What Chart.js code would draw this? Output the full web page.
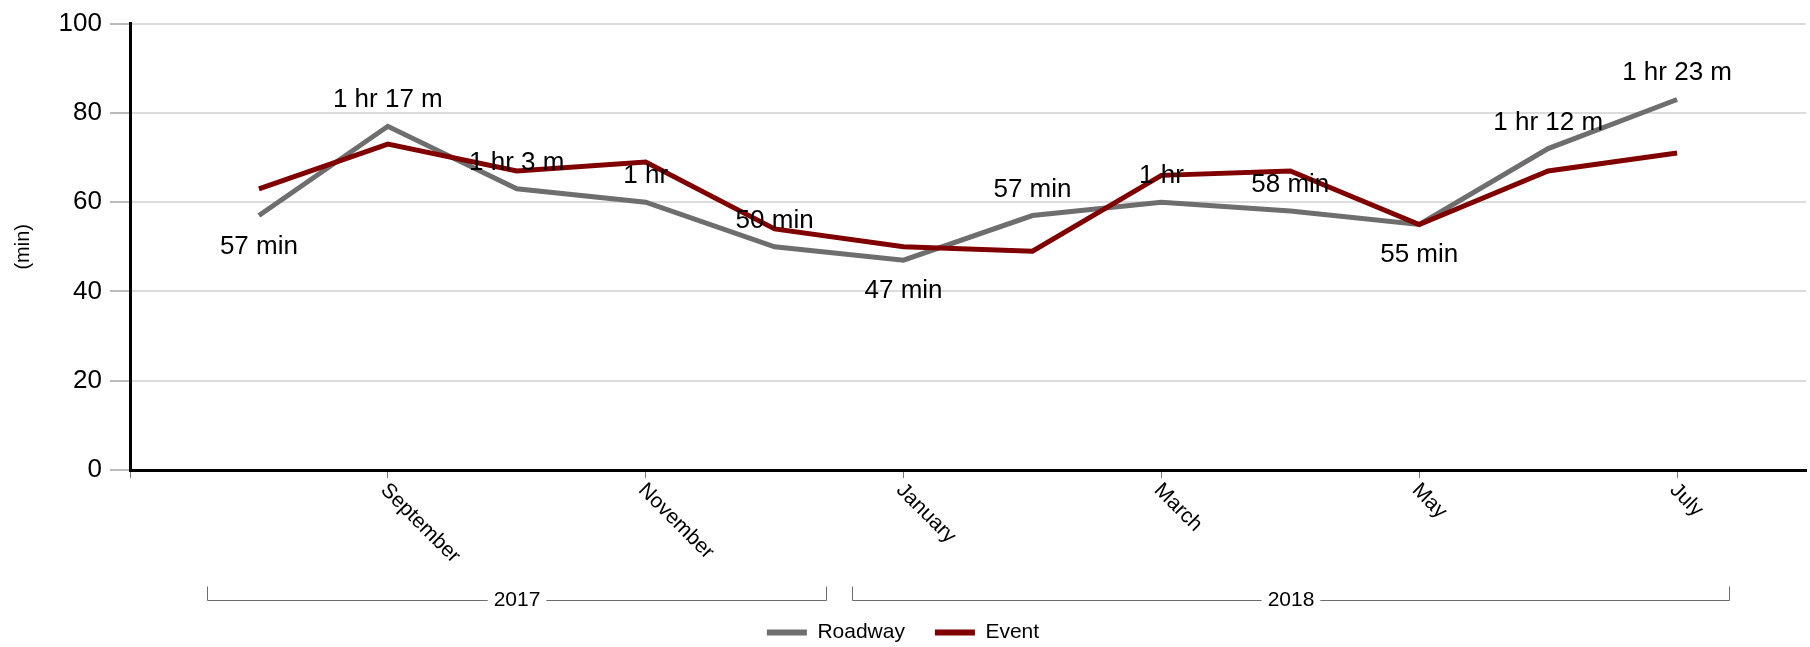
<!DOCTYPE html>
<html>
<head>
<meta charset="utf-8">
<title>Roadway vs Event duration</title>
<script src="https://cdn.jsdelivr.net/npm/chart.js@4.4.1/dist/chart.umd.min.js"></script>
<style>
  html, body { margin: 0; padding: 0; background: #fff; }
  #wrap { width: 1810px; height: 647px; }
</style>
</head>
<body>
<div id="wrap"><canvas id="durationChart"></canvas></div>
<script>
// x axis runs one month past the data on each side
const axisMonths = ['2017-07', '2017-08', '2017-09', '2017-10', '2017-11', '2017-12',
    '2018-01', '2018-02', '2018-03', '2018-04', '2018-05', '2018-06', '2018-07', '2018-08'];
const tickLabels = ['', '', 'September', '', 'November', '', 'January', '', 'March', '', 'May', '', 'July', ''];
const categories = ['2017-08', '2017-09', '2017-10', '2017-11', '2017-12',
    '2018-01', '2018-02', '2018-03', '2018-04', '2018-05', '2018-06', '2018-07'];
const years = ['2017', '2018'];
const roadway = [57, 77, 63, 60, 50, 47, 57, 60, 58, 55, 72, 83];
const eventTimes = [63, 73, 67, 69, 54, 50, 49, 66, 67, 55, 67, 71];
const yTicks = [0, 20, 40, 60, 80, 100];

const FONT = "'Liberation Sans', Arial, Helvetica, sans-serif";
Chart.defaults.font.family = FONT;
Chart.defaults.color = '#000';

function formatMinutes(v) {
    if (v < 60) return v + ' min';
    const h = Math.floor(v / 60);
    const m = v % 60;
    return m ? `${h} hr ${m} m` : `${h} hr`;
}

const annotations = {
    id: 'annotations',
    afterDatasetsDraw(chart) {
        // value labels for the Roadway line, below the point at local minimums
        const ctx = chart.ctx;
        const points = chart.getDatasetMeta(0).data;
        ctx.save();
        ctx.font = '26px ' + FONT;
        ctx.fillStyle = '#000';
        ctx.textAlign = 'center';
        ctx.textBaseline = 'alphabetic';
        roadway.forEach((v, i) => {
            const prev = roadway[i - 1];
            const next = roadway[i + 1];
            const below = (prev === undefined || v < prev) && (next === undefined || v < next);
            const p = points[i];
            ctx.fillText(formatMinutes(v), p.x, below ? p.y + 38 : p.y - 19);
        });
        ctx.restore();
    },
    afterDraw(chart) {
        const ctx = chart.ctx;
        const x = chart.scales.x;
        const bottom = chart.chartArea.bottom;

        // month names, slanted down to the right
        ctx.save();
        ctx.font = '21px ' + FONT;
        ctx.fillStyle = '#000';
        ctx.textAlign = 'left';
        ctx.textBaseline = 'middle';
        tickLabels.forEach((label, i) => {
            if (!label) return;
            ctx.save();
            ctx.translate(x.getPixelForValue(i) - 4, bottom + 17);
            ctx.rotate(Math.PI / 4);
            ctx.fillText(label, 0, 0);
            ctx.restore();
        });

        // year brackets
        const step = x.getPixelForValue(1) - x.getPixelForValue(0);
        const y = Math.round(bottom + 130) + 0.5;
        ctx.strokeStyle = '#6b6b6b';
        ctx.lineWidth = 1;
        ctx.textAlign = 'center';
        years.forEach(year => {
            const inYear = categories.filter(c => c.startsWith(year));
            const x1 = Math.round(x.getPixelForValue(axisMonths.indexOf(inYear[0])) - 0.4 * step) + 0.5;
            const x2 = Math.round(x.getPixelForValue(axisMonths.indexOf(inYear[inYear.length - 1])) + 0.4 * step) + 0.5;
            const mid = (x1 + x2) / 2;
            const half = ctx.measureText(year).width / 2 + 6;
            ctx.beginPath();
            ctx.moveTo(x1, y - 14);
            ctx.lineTo(x1, y);
            ctx.lineTo(mid - half, y);
            ctx.moveTo(mid + half, y);
            ctx.lineTo(x2, y);
            ctx.lineTo(x2, y - 14);
            ctx.stroke();
            ctx.fillText(year, mid, y);
        });
        ctx.restore();
    }
};

const ctx = document.getElementById('durationChart').getContext('2d');
new Chart(ctx, {
    type: 'line',
    data: {
        datasets: [
            {
                label: 'Roadway',
                data: categories.map((c, i) => ({ x: c, y: roadway[i] })),
                borderColor: '#6e6e6e',
                backgroundColor: '#6e6e6e',
                borderWidth: 5,
                pointRadius: 0,
                tension: 0,
                order: 1
            },
            {
                label: 'Event',
                data: categories.map((c, i) => ({ x: c, y: eventTimes[i] })),
                borderColor: '#800000',
                backgroundColor: '#800000',
                borderWidth: 5,
                pointRadius: 0,
                tension: 0,
                order: 0
            }
        ]
    },
    options: {
        responsive: true,
        maintainAspectRatio: false,
        animation: false,
        layout: { padding: { top: 22, right: 4, left: 0, bottom: -6 } },
        plugins: {
            tooltip: { enabled: false },
            legend: {
                position: 'bottom',
                labels: {
                    boxWidth: 40,
                    boxHeight: 6,
                    padding: 30,
                    font: { size: 21 },
                    color: '#000',
                    sort: (a, b) => a.datasetIndex - b.datasetIndex,
                    generateLabels: chart =>
                        Chart.defaults.plugins.legend.labels.generateLabels(chart)
                            .map(l => ({ ...l, lineWidth: 0 }))
                }
            }
        },
        scales: {
            x: {
                type: 'category',
                labels: axisMonths,
                offset: false,
                afterFit: scale => { scale.height = 122; },
                ticks: { display: false, autoSkip: false },
                grid: {
                    offset: false,
                    drawOnChartArea: false,
                    tickLength: 8,
                    tickWidth: 1,
                    tickColor: c => (c.index % 2 === 0 && c.index < axisMonths.length - 1) ? '#777' : 'rgba(0,0,0,0)'
                },
                border: { color: '#000', width: 3 }
            },
            y: {
                min: 0,
                max: 100,
                afterFit: scale => { scale.width = 130; },
                afterBuildTicks: scale => { scale.ticks = yTicks.map(v => ({ value: v })); },
                ticks: { font: { size: 26 }, color: '#000', padding: 8 },
                grid: {
                    color: '#dcdcdc',
                    lineWidth: 2,
                    tickLength: 20,
                    tickColor: '#777',
                    tickWidth: 1
                },
                border: { color: '#000', width: 3 },
                title: {
                    display: true,
                    text: '(min)',
                    font: { size: 20 },
                    color: '#000',
                    padding: { top: 11, bottom: 0 }
                }
            }
        }
    },
    plugins: [annotations]
});
</script>
</body>
</html>
